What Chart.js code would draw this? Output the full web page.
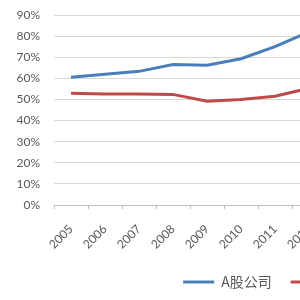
<!DOCTYPE html>
<html><head><meta charset="utf-8">
<script src="https://cdn.jsdelivr.net/npm/chart.js@4/dist/chart.umd.min.js"></script>
<style>
html,body{margin:0;padding:0;background:#fff;overflow:hidden;width:300px;height:300px;}
#c{position:absolute;left:0;top:0;}
</style></head>
<body>
<canvas id="c" width="609" height="300" style="width:609px;height:300px"></canvas>
<script>
const years = ["2005","2006","2007","2008","2009","2010","2011","2012","2013","2014","2015","2016","2017","2018","2019"];
const seriesA = [60.5, 61.9, 63.3, 66.5, 66.2, 69.3, 75.0, 82.0, null, null, null, null, null, null, null];
const seriesB = [52.9, 52.6, 52.6, 52.4, 49.1, 50.0, 51.5, 55.3, null, null, null, null, null, null, null];
const nameA = "A股公司";
const nameB = "H股公司";
const yTicks = [0,10,20,30,40,50,60,70,80,90];

const txt = "#595959";
new Chart(document.getElementById('c'), {
  type: 'line',
  data: {
    labels: years,
    datasets: [
      {label: nameA, data: seriesA, borderColor: '#4A7EBB', backgroundColor: '#4A7EBB', borderWidth: 3, pointRadius: 0, tension: 0, spanGaps: false},
      {label: nameB, data: seriesB, borderColor: '#BE4B48', backgroundColor: '#BE4B48', borderWidth: 3, pointRadius: 0, tension: 0, spanGaps: false}
    ]
  },
  options: {
    responsive: false, animation: false, devicePixelRatio: 1,
    layout: {autoPadding: false, padding: {top: 15, right: 45, left: 0, bottom: 1}},
    plugins: {
      tooltip: {enabled: false},
      legend: {
        position: 'bottom',
        labels: {
          usePointStyle: true, pointStyle: 'line', pointStyleWidth: 31,
          color: txt, padding: 19,
          font: {size: 14, family: "'Noto Sans CJK SC', 'Liberation Sans', sans-serif"}
        }
      }
    },
    scales: {
      x: {
        offset: true,
        grid: {offset: true, drawOnChartArea: false, drawTicks: true, tickLength: 4, color: '#bfbfbf'},
        border: {display: true, color: '#bfbfbf'},
        ticks: {maxRotation: 45, minRotation: 45, color: txt, padding: 13, autoSkip: false,
                font: {size: 12, family: "Lato, 'Open Sans', sans-serif"}},
        afterFit: s => { s.height = 51; }
      },
      y: {
        min: 0, max: 90,
        afterBuildTicks: s => { s.ticks = yTicks.map(v => ({value: v})); },
        grid: {color: '#d9d9d9', drawTicks: true, tickLength: 10, tickColor: 'rgba(0,0,0,0)', lineWidth: 1},
        border: {display: false},
        ticks: {color: txt, padding: 4, callback: v => v + '%',
                font: {size: 12, family: "Lato, 'Open Sans', sans-serif"}},
        afterFit: s => { s.width = 54; }
      }
    }
  }
});
</script>
</body></html>
